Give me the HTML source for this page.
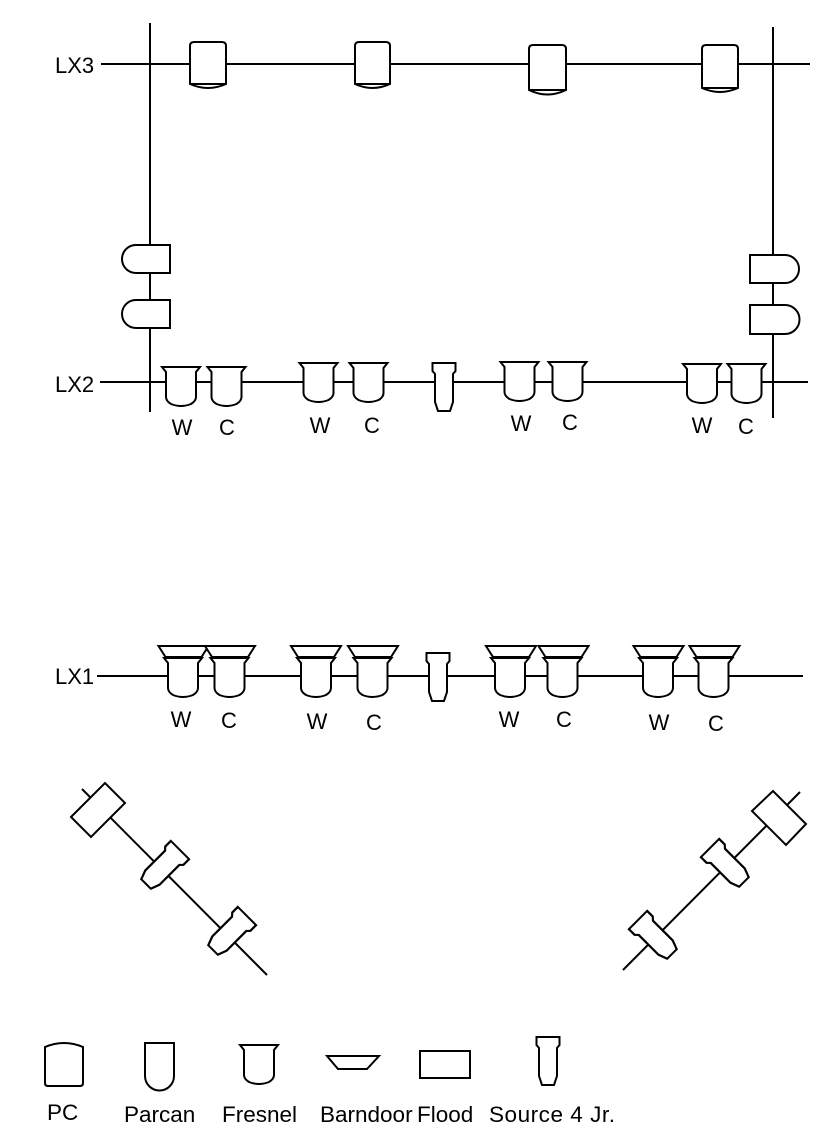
<!DOCTYPE html>
<html><head><meta charset="utf-8"><style>
html,body{margin:0;padding:0;background:#fff;}
svg{display:block;}
text{font-family:"Liberation Sans",Arial,sans-serif;fill:#000;}
</style></head><body>
<svg width="833" height="1145" viewBox="0 0 833 1145" xmlns="http://www.w3.org/2000/svg">
<defs>
<path id="fr" d="M-19,0 H19 L15,5 V30 Q15,34 10,37 Q0,41 -10,37 Q-15,34 -15,30 V5 Z"/>
<path id="bd" d="M-25,0 H25 L18,11 H-18 Z"/>
<path id="s4" d="M-11.5,0 H11.5 V8 L9,11 V39 L6,48 H-6 L-9,39 V11 L-11.5,8 Z"/>
</defs>
<g stroke="#000" stroke-width="2" fill="none">
<line x1="150" y1="23" x2="150" y2="412"/>
<line x1="773" y1="27" x2="773" y2="418"/>
<line x1="101" y1="64" x2="810" y2="64"/>
<line x1="100" y1="382" x2="808" y2="382"/>
<line x1="97" y1="676" x2="803" y2="676"/>
<line x1="82" y1="789" x2="267" y2="975"/>
<line x1="623" y1="970" x2="800" y2="792"/>
</g>
<g stroke="#000" stroke-width="2" fill="#fff">
<g transform="translate(190,42)"><path d="M0,4 Q0,0 4,0 H32 Q36,0 36,4 V42 Q18,50 0,42 Z"/><line x1="0" y1="42" x2="36" y2="42"/></g>
<g transform="translate(355,42)"><path d="M0,4 Q0,0 4,0 H31 Q35,0 35,4 V42 Q17.5,50 0,42 Z"/><line x1="0" y1="42" x2="35" y2="42"/></g>
<g transform="translate(529,45)"><path d="M0,4 Q0,0 4,0 H33 Q37,0 37,4 V45 Q18.5,54 0,45 Z"/><line x1="0" y1="45" x2="37" y2="45"/></g>
<g transform="translate(702,45)"><path d="M0,4 Q0,0 4,0 H32 Q36,0 36,4 V43 Q18,51 0,43 Z"/><line x1="0" y1="43" x2="36" y2="43"/></g>
<path d="M170,245 H136 A14,14 0 0 0 136,273 H170 Z"/>
<path d="M170,300 H136 A14,14 0 0 0 136,328 H170 Z"/>
<path d="M750,255 H785 A14,14 0 0 1 785,283 H750 Z"/>
<path d="M750,305 H785 A14.5,14.5 0 0 1 785,334 H750 Z"/>
<use href="#fr" transform="translate(181,367)"/>
<use href="#fr" transform="translate(226.5,367)"/>
<use href="#fr" transform="translate(318.5,363)"/>
<use href="#fr" transform="translate(368.5,363)"/>
<use href="#fr" transform="translate(519.5,362)"/>
<use href="#fr" transform="translate(567.5,362)"/>
<use href="#fr" transform="translate(702,364)"/>
<use href="#fr" transform="translate(746.5,364)"/>
<use href="#s4" transform="translate(444,363)"/>
<use href="#bd" transform="translate(183.5,646)"/>
<use href="#bd" transform="translate(230,646)"/>
<use href="#bd" transform="translate(316,646)"/>
<use href="#bd" transform="translate(373,646)"/>
<use href="#bd" transform="translate(511,646)"/>
<use href="#bd" transform="translate(563.5,646)"/>
<use href="#bd" transform="translate(658.5,646)"/>
<use href="#bd" transform="translate(714.5,646)"/>
<use href="#fr" transform="translate(183,658)"/>
<use href="#fr" transform="translate(229.5,658)"/>
<use href="#fr" transform="translate(316,658)"/>
<use href="#fr" transform="translate(372.5,658)"/>
<use href="#fr" transform="translate(510,658)"/>
<use href="#fr" transform="translate(562.5,658)"/>
<use href="#fr" transform="translate(658,658)"/>
<use href="#fr" transform="translate(713.5,658)"/>
<use href="#s4" transform="translate(438,653)"/>
<polygon points="71,817 105,783 125,803 91,837"/>
<use href="#s4" transform="translate(163,867) rotate(45) scale(1.12,1) translate(0,-24)"/>
<use href="#s4" transform="translate(230,933) rotate(45) scale(1.12,1) translate(0,-24)"/>
<polygon points="752,811 773,791 806,824 786,845"/>
<use href="#s4" transform="translate(727,865) rotate(-45) scale(1.12,1) translate(0,-24)"/>
<use href="#s4" transform="translate(655,937) rotate(-45) scale(1.12,1) translate(0,-24)"/>
<path d="M45,1047 V1083 Q45,1086 48,1086 H80 Q83,1086 83,1083 V1047 Q64,1039 45,1047 Z"/>
<path d="M145,1043 H174 V1076 A14.5,14.5 0 0 1 145,1076 Z"/>
<use href="#fr" transform="translate(259,1045)"/>
<path d="M327,1056 H379 L367,1069 H338 Z"/>
<rect x="420" y="1051" width="50" height="27"/>
<use href="#s4" transform="translate(548,1037)"/>
</g>
<g font-size="22">
<text x="55" y="73">LX3</text>
<text x="55" y="392">LX2</text>
<text x="55" y="684">LX1</text>
<g text-anchor="middle">
<text x="182" y="435">W</text><text x="227" y="435">C</text>
<text x="320" y="433">W</text><text x="372" y="433">C</text>
<text x="521" y="431">W</text><text x="570" y="430">C</text>
<text x="702" y="433">W</text><text x="746" y="434">C</text>
<text x="181" y="727">W</text><text x="229" y="728">C</text>
<text x="317" y="729">W</text><text x="374" y="730">C</text>
<text x="509" y="727">W</text><text x="564" y="727">C</text>
<text x="659" y="730">W</text><text x="716" y="731">C</text>
</g>
</g>
<g font-size="22.5">
<text x="47" y="1120">PC</text>
<text x="124" y="1122">Parcan</text>
<text x="222" y="1122">Fresnel</text>
<text x="320" y="1122">Barndoor</text>
<text x="417" y="1122">Flood</text>
<text x="489" y="1122" textLength="126">Source 4 Jr.</text>
</g>
</svg>
</body></html>
